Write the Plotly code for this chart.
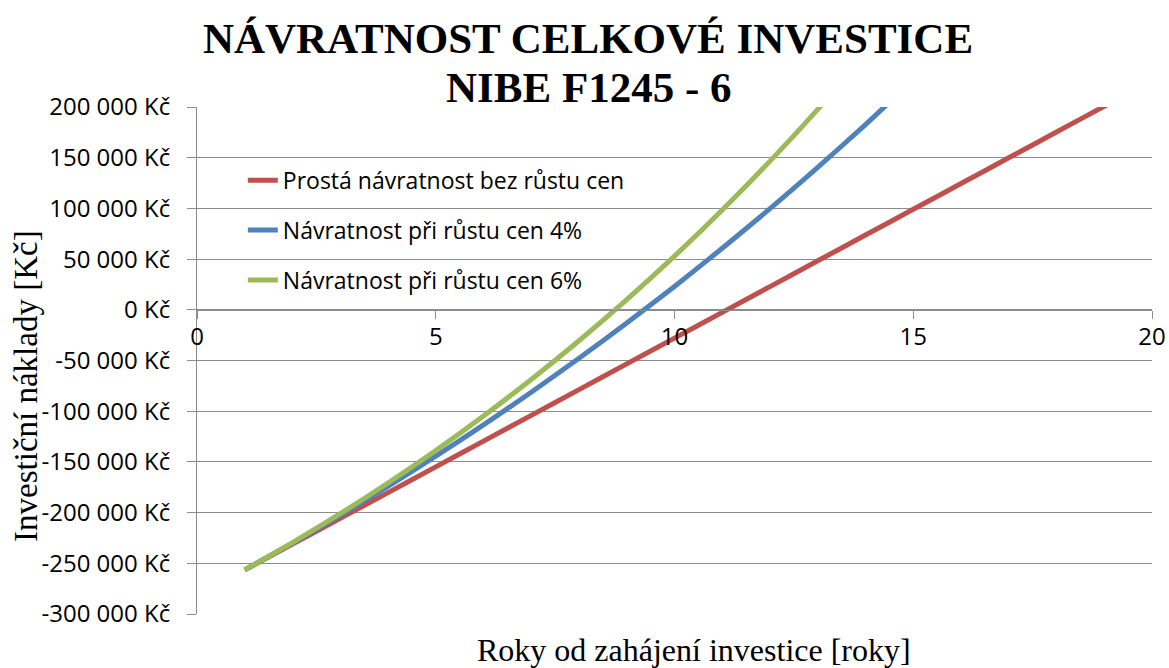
import plotly.graph_objects as go

# roky od zahajeni investice
years = list(range(1, 21))

# kumulativni bilance investice [Kc]
simple_payback = [-256500, -231100, -205700, -180300, -154900, -129500, -104100, -78700, -53300, -27900,
                  -2500, 22900, 48300, 73700, 99100, 124500, 149900, 175300, 200700, 226100]
payback_4 = [-256500, -230080, -202610, -174040, -144330, -113420, -81280, -47860, -13100, 23060,
             60650, 99760, 140420, 182720, 226700, 272440, 320020, 369490, 420950, 474460]
payback_6 = [-256500, -229580, -201040, -170780, -138720, -104730, -68700, -30500, 9980, 52890,
             98380, 146600, 197710, 251890, 309310, 370190, 434710, 503110, 575610, 652460]

series_names = ["Prostá návratnost bez růstu cen",
                "Návratnost při růstu cen 4%",
                "Návratnost při růstu cen 6%"]
series_colors = ["#C0504D", "#4F81BD", "#9BBB59"]

y_ticks = [200000, 150000, 100000, 50000, 0, -50000, -100000, -150000, -200000, -250000, -300000]
y_tick_labels = ["200 000 Kč", "150 000 Kč", "100 000 Kč", "50 000 Kč", "0 Kč", "-50 000 Kč",
                 "-100 000 Kč", "-150 000 Kč", "-200 000 Kč", "-250 000 Kč", "-300 000 Kč"]
x_ticks = [0, 5, 10, 15, 20]

sans = "Open Sans"
serif = "Liberation Serif"
grid = "#8c8c8c"

fig = go.Figure()
for name, vals, color in zip(series_names, [simple_payback, payback_4, payback_6], series_colors):
    fig.add_trace(go.Scatter(
        x=years, y=vals, name=name, legendgroup=name,
        mode="lines", line=dict(color=color, width=5, shape="spline", smoothing=0.6),
    ))

fig.update_layout(
    width=1169, height=668,
    paper_bgcolor="white", plot_bgcolor="white",
    margin=dict(l=197, r=17, t=107, b=54, autoexpand=False),
    title=dict(
        text="<b>NÁVRATNOST CELKOVÉ INVESTICE</b>",
        x=0.503, xanchor="center", xref="container",
        y=1 - 38 / 668, yanchor="middle", yref="container",
        font=dict(family=serif, size=43, color="black"),
    ),
    legend=dict(
        x=0.048, y=0.898, xanchor="left", yanchor="top",
        bgcolor="rgba(0,0,0,0)", traceorder="grouped", tracegroupgap=17,
        font=dict(family=sans, size=23, color="black"),
    ),
    xaxis=dict(
        range=[0, 20], tickvals=x_ticks, showgrid=False, zeroline=False,
        anchor="free", position=0.6, automargin=False,
        showline=True, linecolor=grid, linewidth=1,
        ticks="outside", ticklen=8, tickcolor=grid, ticklabelstandoff=-3,
        tickfont=dict(family=sans, size=24, color="black"),
    ),
    yaxis=dict(
        range=[-300000, 200000], tickvals=y_ticks, ticktext=y_tick_labels,
        showgrid=True, gridcolor=grid, gridwidth=1, zeroline=False, automargin=False,
        showline=True, linecolor=grid, linewidth=1,
        ticks="outside", ticklen=9, tickcolor=grid, ticklabelstandoff=12,
        tickfont=dict(family=sans, size=24, color="black"),
    ),
)

# druhy radek nadpisu
fig.add_annotation(
    text="<b>NIBE F1245 - 6</b>", xref="paper", yref="paper",
    x=0.41, y=1.039, xanchor="center", yanchor="middle", showarrow=False,
    font=dict(family=serif, size=43, color="black"),
)
fig.add_annotation(
    text="Roky od zahájení investice [roky]", xref="paper", yref="paper",
    x=0.52, y=-0.071, xanchor="center", yanchor="middle", showarrow=False,
    font=dict(family=serif, size=32, color="black"),
)
fig.add_annotation(
    text="Investiční náklady [Kč]", xref="paper", yref="paper",
    x=-0.179, y=0.45, xanchor="center", yanchor="middle", showarrow=False, textangle=-90,
    font=dict(family=serif, size=33, color="black"),
)

fig.write_html("out.html", config={"displayModeBar": False},
               post_script="document.body.style.margin = '0';")
